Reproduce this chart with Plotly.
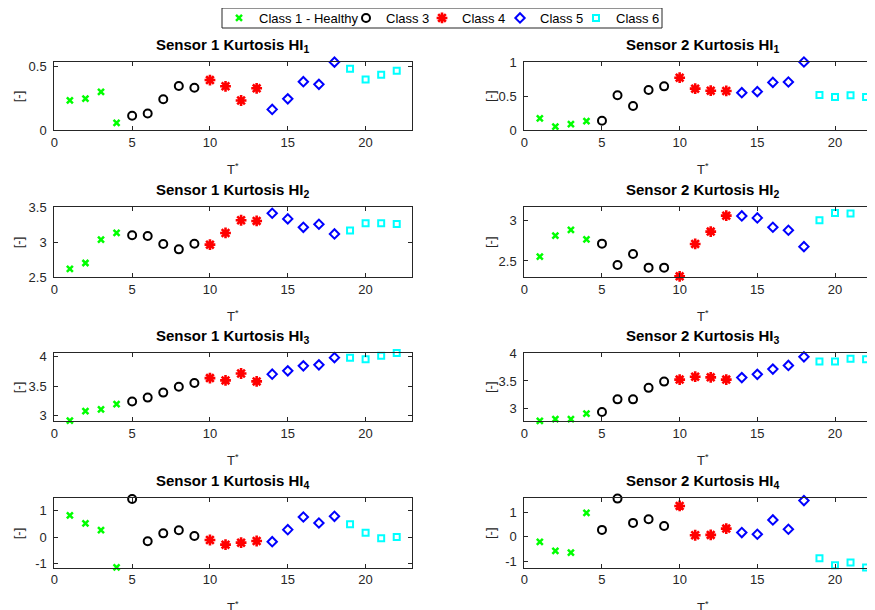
import plotly.graph_objects as go

# ---------------- data ----------------
t_star = list(range(1, 23))
point_class = (["Class 1 - Healthy"] * 4 + ["Class 3"] * 5 + ["Class 4"] * 4
               + ["Class 5"] * 5 + ["Class 6"] * 4)
class_names = ["Class 1 - Healthy", "Class 3", "Class 4", "Class 5", "Class 6"]

s1_hi1 = [0.234, 0.247, 0.300, 0.057, 0.112, 0.130, 0.242, 0.346, 0.333, 0.393, 0.344,
          0.232, 0.328, 0.162, 0.245, 0.380, 0.359, 0.534, 0.482, 0.398, 0.435, 0.466]
s2_hi1 = [0.172, 0.049, 0.088, 0.132, 0.137, 0.510, 0.353, 0.588, 0.642, 0.769, 0.608,
          0.578, 0.574, 0.549, 0.564, 0.700, 0.706, 1.000, 0.515, 0.485, 0.510, 0.485]
s1_hi2 = [2.617, 2.700, 3.033, 3.129, 3.096, 3.086, 2.971, 2.895, 2.976, 2.962, 3.129,
          3.311, 3.301, 3.411, 3.330, 3.210, 3.254, 3.115, 3.163, 3.268, 3.268, 3.258]
s2_hi2 = [2.553, 2.811, 2.881, 2.766, 2.713, 2.451, 2.586, 2.418, 2.418, 2.311, 2.709,
          2.861, 3.057, 3.053, 3.029, 2.914, 2.877, 2.676, 3.000, 3.090, 3.082, 3.168]
s1_hi3 = [2.910, 3.073, 3.101, 3.191, 3.236, 3.303, 3.388, 3.489, 3.551, 3.635, 3.596,
          3.713, 3.579, 3.702, 3.758, 3.843, 3.860, 3.983, 3.983, 3.955, 4.017, 4.062]
s2_hi3 = [2.780, 2.810, 2.810, 2.911, 2.940, 3.167, 3.167, 3.375, 3.488, 3.524, 3.577,
          3.565, 3.524, 3.560, 3.619, 3.714, 3.780, 3.935, 3.851, 3.851, 3.899, 3.893]
s1_hi4 = [0.812, 0.512, 0.262, -1.137, 1.425, -0.162, 0.137, 0.250, 0.037, -0.112, -0.287,
          -0.212, -0.150, -0.175, 0.275, 0.750, 0.525, 0.775, 0.475, 0.162, -0.050, 0.000]
s2_hi4 = [-0.203, -0.568, -0.635, 0.973, 0.284, 1.554, 0.568, 0.716, 0.446, 1.257, 0.068,
          0.081, 0.338, 0.176, 0.108, 0.689, 0.311, 1.473, -0.865, -1.149, -1.040, -1.240]

series = [s1_hi1, s2_hi1, s1_hi2, s2_hi2, s1_hi3, s2_hi3, s1_hi4, s2_hi4]
titles = ["Sensor 1 Kurtosis HI<sub>1</sub>", "Sensor 2 Kurtosis HI<sub>1</sub>",
          "Sensor 1 Kurtosis HI<sub>2</sub>", "Sensor 2 Kurtosis HI<sub>2</sub>",
          "Sensor 1 Kurtosis HI<sub>3</sub>", "Sensor 2 Kurtosis HI<sub>3</sub>",
          "Sensor 1 Kurtosis HI<sub>4</sub>", "Sensor 2 Kurtosis HI<sub>4</sub>"]
y_ranges = [[0, 0.535], [0, 1.0], [2.5, 3.5], [2.303, 3.163],
            [2.905, 4.062], [2.776, 4.005], [-1.15, 1.45], [-1.25, 1.567]]
y_ticks = [[0, 0.5], [0, 0.5, 1], [2.5, 3, 3.5], [2.5, 3], [3, 3.5, 4], [3, 3.5, 4],
           [-1, 0, 1], [-1, 0, 1]]
x_ticks = [0, 5, 10, 15, 20]

# ---------------- layout helpers ----------------
# The page body has an 8px margin, so the figure starts at (8, 8) on screen.
OFF = 8
W, H = 875 - OFF, 610 - OFF


def px(x):
    return (x - OFF) / W


def py(y):
    return 1 - (y - OFF) / H


styles = {
    "Class 1 - Healthy": dict(symbol="x-thin-open", size=6, color="#00ff00", lw=2.5),
    "Class 3": dict(symbol="circle-open", size=8, color="#000000", lw=2),
    "Class 4": dict(symbol="asterisk-open", size=9, color="#ff0000", lw=2.6),
    "Class 5": dict(symbol="diamond-open", size=7.2, color="#0000ff", lw=2),
    "Class 6": dict(symbol="square-open", size=6, color="#00ffff", lw=2),
}
# legend key centre on screen (x) for each class
legend_key_x = [240, 367, 443, 521, 597]

# screen-pixel boxes (left, right, x-range)
col_x = [(54.3, 412.3, [0, 23.0]), (524.3, 875.0, [0, 22.575])]
row_y = [(62, 130), (207, 277), (353, 421), (498.3, 567.7)]

fig = go.Figure()
font_main = "Liberation Sans, Arial, sans-serif"
tick_col = "#262626"
annotations = []
layout_axes = {}
legends = {}

for i, ys in enumerate(series):
    r, c = divmod(i, 2)
    x0, x1, xr = col_x[c]
    top, bot = row_y[r]
    n = i + 1
    xa = "x" if n == 1 else f"x{n}"
    ya = "y" if n == 1 else f"y{n}"
    for k, cname in enumerate(class_names):
        st = styles[cname]
        xs = [tt for tt, pc in zip(t_star, point_class) if pc == cname]
        yv = [v for v, pc in zip(ys, point_class) if pc == cname]
        lg = "legend" if k == 0 else f"legend{k + 1}"
        fig.add_trace(go.Scatter(
            x=xs, y=yv, mode="markers", name=cname, legendgroup=cname,
            showlegend=(i == 0), legend=lg, xaxis=xa, yaxis=ya, cliponaxis=False,
            marker=dict(symbol=st["symbol"], size=st["size"], color=st["color"],
                        line=dict(color=st["color"], width=st["lw"]))))
    layout_axes["xaxis" if n == 1 else f"xaxis{n}"] = dict(
        domain=[px(x0), min(1.0, px(x1))], range=xr, anchor=ya, tickvals=x_ticks,
        ticks="inside", ticklen=4, tickcolor=tick_col, showline=True,
        linecolor=tick_col, linewidth=1, mirror="allticks", showgrid=False,
        zeroline=False, tickfont=dict(size=13, color=tick_col, family=font_main))
    layout_axes["yaxis" if n == 1 else f"yaxis{n}"] = dict(
        domain=[py(bot), py(top)], range=y_ranges[i], anchor=xa, tickvals=y_ticks[i],
        ticktext=[("%g" % v) for v in y_ticks[i]],
        ticks="inside", ticklen=4, tickcolor=tick_col, showline=True,
        linecolor=tick_col, linewidth=1, mirror=("allticks" if c == 0 else False),
        showgrid=False, zeroline=False, ticklabelstandoff=4,
        tickfont=dict(size=13, color=tick_col, family=font_main))
    full_right = x0 + (23.0 / xr[1]) * (x1 - x0)
    cx = px((x0 + full_right) / 2)
    annotations.append(dict(
        text="<b>" + titles[i].replace("<sub>", "</b><sub><b>").replace("</sub>", "</b></sub>"),
        x=cx, y=py(top - 5), xref="paper", yref="paper",
        xanchor="center", yanchor="bottom", showarrow=False,
        font=dict(size=15, color="#000000", family=font_main)))
    annotations.append(dict(
        text="T<sup>*</sup>", x=cx, y=py(bot + 39), xref="paper", yref="paper",
        xanchor="center", yanchor="middle", showarrow=False,
        font=dict(size=13, color=tick_col, family=font_main)))
    lab_x = 18.3 if c == 0 else 490
    annotations.append(dict(
        text="[-]", x=px(lab_x), y=py((top + bot) / 2), xref="paper", yref="paper",
        xanchor="center", yanchor="middle", textangle=-90, showarrow=False,
        font=dict(size=13, color=tick_col, family=font_main)))

for k, kx in enumerate(legend_key_x):
    lg = "legend" if k == 0 else f"legend{k + 1}"
    legends[lg] = dict(orientation="h", x=px(kx - 21), xanchor="left",
                       y=py(18), yanchor="middle", borderwidth=0,
                       bgcolor="rgba(0,0,0,0)", itemwidth=30,
                       font=dict(size=13, color="#000000", family=font_main))

fig.update_layout(
    width=W, height=H, margin=dict(l=0, r=0, t=0, b=0, autoexpand=False),
    paper_bgcolor="white", plot_bgcolor="white",
    font=dict(family=font_main, size=12, color="#000000"),
    annotations=annotations,
    shapes=[dict(type="rect", xref="paper", yref="paper",
                 x0=px(222), x1=px(662), y0=py(28), y1=py(8),
                 line=dict(color="#262626", width=1), fillcolor="white", layer="below")],
    **legends,
    **layout_axes)

fig.write_html("out.html")
